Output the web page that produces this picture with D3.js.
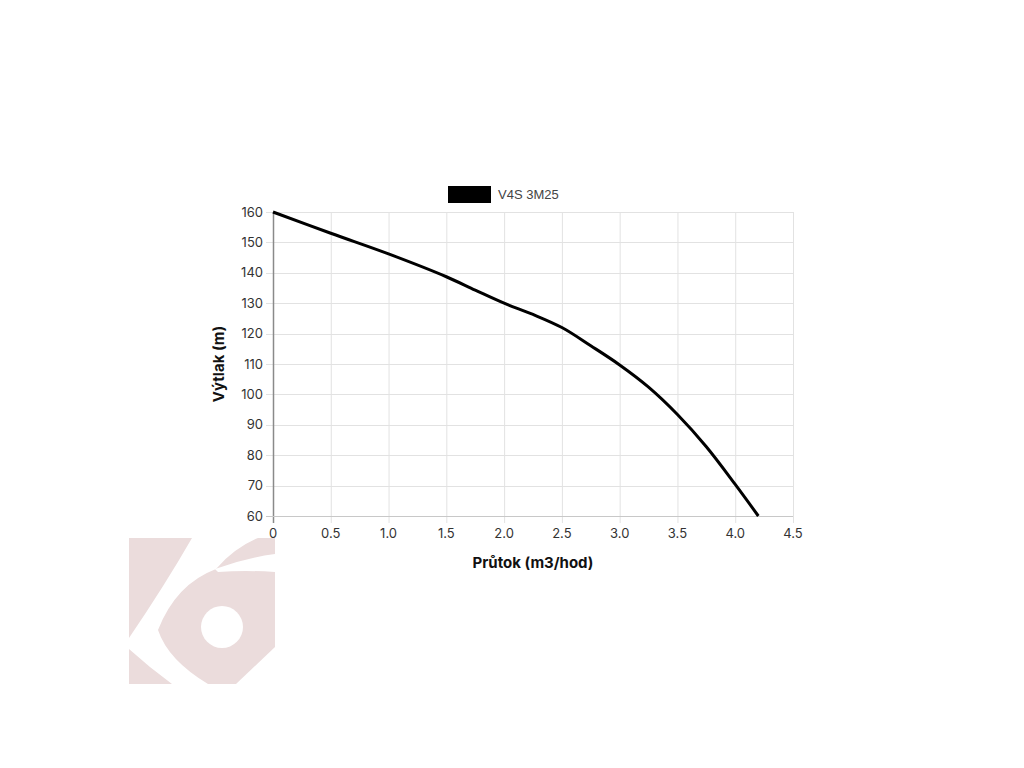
<!DOCTYPE html>
<html>
<head>
<meta charset="utf-8">
<script src="https://cdn.jsdelivr.net/npm/d3@7"></script>
<style>
  html, body { margin: 0; padding: 0; background: #fff; }
  svg { display: block; }
</style>
</head>
<body>
<svg id="chart" width="1024" height="768"></svg>
<script>
// ---- data ----
const seriesName = "V4S 3M25";
const flow = [0, 0.5, 1.0, 1.5, 1.75, 2.0, 2.25, 2.5, 2.75, 3.0, 3.25, 3.5, 3.75, 4.0, 4.2];
const head = [160, 153, 146.2, 138.7, 134.3, 130, 126.3, 122, 116, 109.7, 102.4, 93.4, 82.8, 70.4, 60];
const xTicks = [0, 0.5, 1.0, 1.5, 2.0, 2.5, 3.0, 3.5, 4.0, 4.5];
const xTickLabels = ["0", "0.5", "1.0", "1.5", "2.0", "2.5", "3.0", "3.5", "4.0", "4.5"];
const yTicks = [60, 70, 80, 90, 100, 110, 120, 130, 140, 150, 160];
const xTitle = "Průtok (m3/hod)";
const yTitle = "Výtlak (m)";

const svg = d3.select("#chart");
const pL = 273, pR = 793, pT = 212, pB = 516;
const x = d3.scaleLinear().domain([0, 4.5]).range([pL, pR]);
const y = d3.scaleLinear().domain([60, 160]).range([pB, pT]);
const tickFont = "'Inter', 'Open Sans', sans-serif";

// ---- watermark logo (decoration) ----
const wm = svg.append("g");
wm.append("rect").attr("x", 129).attr("y", 538).attr("width", 146).attr("height", 146).attr("fill", "#ebdcdc");
wm.append("path").attr("fill", "#fff")
  .attr("d", "M192,538 Q165,585 129,638 L129,649 Q150,668 172,684 L208,684 Q168,660 158,630 Q176,584 216,569 Q234,548 258,538 Z");
wm.append("path").attr("fill", "#fff")
  .attr("d", "M215,569 Q245,558 275,554 L275,572 Q245,570 218,572 Z");
wm.append("path").attr("fill", "#fff").attr("d", "M236,684 L275,647 L275,684 Z");
wm.append("circle").attr("cx", 222).attr("cy", 627).attr("r", 21).attr("fill", "#fff");

// ---- grid ----
const grid = svg.append("g");
grid.selectAll("line.gx").data(xTicks).join("line")
  .attr("x1", d => x(d) + 0.5).attr("x2", d => x(d) + 0.5)
  .attr("y1", pT).attr("y2", pB + 7)
  .attr("stroke", "#e2e2e2").attr("stroke-width", 1);
grid.selectAll("line.gy").data(yTicks).join("line")
  .attr("y1", d => Math.round(y(d)) + 0.5).attr("y2", d => Math.round(y(d)) + 0.5)
  .attr("x1", pL - 7).attr("x2", pR)
  .attr("stroke", "#e2e2e2").attr("stroke-width", 1);

// axis lines
svg.append("line").attr("x1", pL + 0.5).attr("x2", pL + 0.5).attr("y1", pT).attr("y2", pB + 7)
  .attr("stroke", "#8a8a8a").attr("stroke-width", 1.5);
svg.append("line").attr("x1", pL - 7).attr("x2", pR).attr("y1", pB + 0.5).attr("y2", pB + 0.5)
  .attr("stroke", "#c8c8c8").attr("stroke-width", 1);

// tick labels
svg.append("g").selectAll("text").data(xTicks).join("text")
  .attr("x", d => x(d)).attr("y", pB + 22)
  .attr("text-anchor", "middle")
  .attr("font-family", tickFont).attr("font-size", 13).attr("fill", "#333")
  .text((d, i) => xTickLabels[i]);
svg.append("g").selectAll("text").data(yTicks).join("text")
  .attr("x", pL - 10).attr("y", d => y(d) + 4.5)
  .attr("text-anchor", "end")
  .attr("font-family", tickFont).attr("font-size", 13).attr("fill", "#333")
  .text(d => d);

// axis titles
svg.append("text").attr("x", (pL + pR) / 2).attr("y", 568)
  .attr("text-anchor", "middle").attr("font-family", tickFont)
  .attr("font-size", 15).attr("font-weight", "bold").attr("fill", "#111")
  .text(xTitle);
svg.append("text").attr("transform", `translate(224,${(pT + pB) / 2}) rotate(-90)`)
  .attr("text-anchor", "middle").attr("font-family", tickFont)
  .attr("font-size", 15).attr("font-weight", "bold").attr("fill", "#111")
  .text(yTitle);

// ---- line ----
const pts = flow.map((f, i) => [f, head[i]]);
svg.append("path").datum(pts)
  .attr("fill", "none").attr("stroke", "#000").attr("stroke-width", 3)
  .attr("stroke-linejoin", "round")
  .attr("d", d3.line().x(d => x(d[0])).y(d => y(d[1])).curve(d3.curveCatmullRom.alpha(0.5)));

// ---- legend ----
svg.append("rect").attr("x", 448).attr("y", 186).attr("width", 43).attr("height", 17).attr("fill", "#000");
svg.append("text").attr("x", 498).attr("y", 199)
  .attr("font-family", "'Liberation Sans', Arial, sans-serif").attr("font-size", 13).attr("fill", "#444")
  .text(seriesName);
</script>
</body>
</html>
